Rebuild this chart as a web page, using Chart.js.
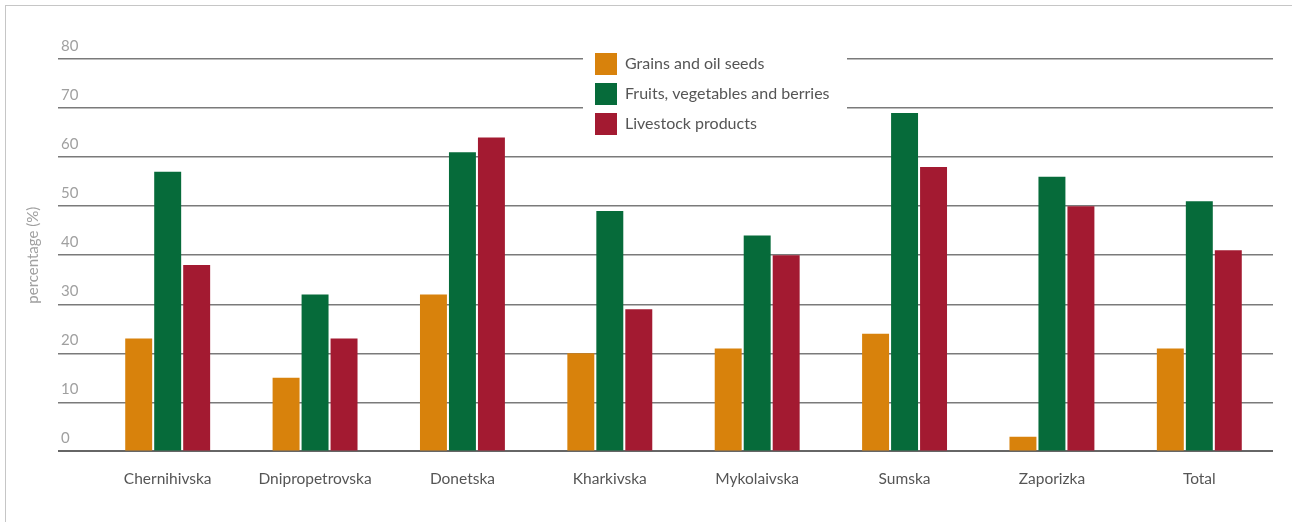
<!DOCTYPE html>
<html>
<head>
<meta charset="utf-8">
<script src="https://cdn.jsdelivr.net/npm/chart.js@4/dist/chart.umd.min.js"></script>
<style>
    body { margin: 0; background: #fff; overflow: hidden; }
    .frame { position: absolute; left: 5px; top: 5px; width: 1300px; height: 530px;
        border-top: 1px solid #c6c6c6; border-left: 1px solid #c6c6c6; }
    #regionChart { position: absolute; left: 0; top: 0; }
</style>
</head>
<body>
<div class="frame"></div>
<canvas id="regionChart" width="1292" height="522"></canvas>
<script>
const regions = ["Chernihivska", "Dnipropetrovska", "Donetska", "Kharkivska",
    "Mykolaivska", "Sumska", "Zaporizka", "Total"];

const seriesNames = ["Grains and oil seeds", "Fruits, vegetables and berries", "Livestock products"];

const grains = [23, 15, 32, 20, 21, 24, 3, 21];
const fruits = [57, 32, 61, 49, 44, 69, 56, 51];
const livestock = [38, 23, 64, 29, 40, 58, 50, 41];

const seriesColors = ["#d8820c", "#066b3a", "#a31a31"];

Chart.defaults.font.family = "Lato, 'Open Sans', sans-serif";
Chart.defaults.font.size = 15;

// legend sits inside the plot, on a white patch over the gridlines
const legendPlacer = {
    id: "legendPlacer",
    afterUpdate(chart) {
        const lg = chart.legend;
        lg.left = 587;
        lg.top = 45;
        lg.right = lg.left + 280;
        lg.bottom = lg.top + 110;
    },
    beforeDatasetsDraw(chart) {
        const ctx = chart.ctx;
        ctx.save();
        ctx.fillStyle = "#ffffff";
        ctx.fillRect(583, 45, 264, 100);
        ctx.restore();
        chart.legend.draw();
    }
};

const datasets = [grains, fruits, livestock].map((values, i) => ({
    label: seriesNames[i],
    data: values,
    backgroundColor: seriesColors[i],
    borderColor: seriesColors[i],
    borderWidth: 0,
    categoryPercentage: 0.59,
    barPercentage: 0.93,
}));

new Chart(document.getElementById("regionChart"), {
    type: "bar",
    data: { labels: regions, datasets: datasets },
    options: {
        responsive: false,
        animation: false,
        layout: { padding: { left: 6, right: 19, top: 59, bottom: 16 } },
        plugins: {
            title: {
                display: true,
                position: "left",
                fullSize: false,
                text: "percentage (%)",
                color: "#a0a0a0",
                font: { size: 15, weight: "normal" },
                padding: { top: 18, bottom: 19 },
            },
            legend: {
                position: "chartArea",
                align: "start",
                labels: {
                    boxWidth: 22,
                    boxHeight: 22,
                    padding: 8,
                    color: "#555",
                    font: { size: 16 },
                },
            },
            tooltip: { enabled: false },
        },
        scales: {
            x: {
                grid: { display: false, drawTicks: false },
                border: { display: false },
                ticks: { color: "#555", padding: 18, font: { size: 15.5 } },
            },
            y: {
                min: 0,
                max: 80,
                afterFit: (scale) => { scale.width = 33; },
                grid: {
                    color: (c) => c.tick && c.tick.value === 0 ? "#666" : "#7a7a7a",
                    lineWidth: (c) => c.tick && c.tick.value === 0 ? 2 : 1.5,
                    drawTicks: true,
                    tickLength: 36,
                },
                border: { display: false },
                ticks: {
                    stepSize: 10,
                    crossAlign: "far",
                    labelOffset: -13,
                    color: "#a0a0a0",
                    font: { size: 15 },
                },
            },
        },
    },
    plugins: [legendPlacer],
});
</script>
</body>
</html>
